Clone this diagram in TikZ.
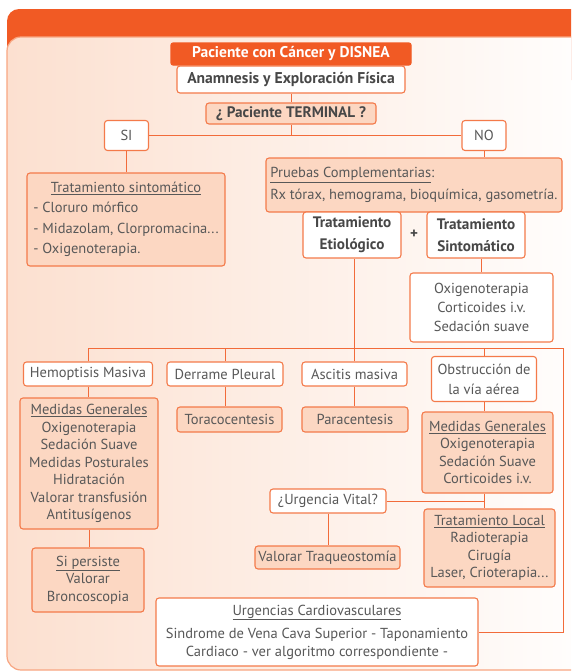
\documentclass[tikz,border=0pt]{standalone}
\usepackage{fontspec}
\setmainfont{PT Sans}
\usepackage{tikz}
\usetikzlibrary{calc}

\definecolor{naranja}{HTML}{F15A24}
\definecolor{borde}{HTML}{F47A4A}
\definecolor{linea}{HTML}{F26B3A}
\definecolor{salmon}{HTML}{FCD7C2}
\definecolor{fondo}{HTML}{FCE0D0}
\definecolor{marco}{HTML}{F8A682}
\definecolor{texto}{HTML}{585858}
\definecolor{textoosc}{HTML}{474747}

\tikzset{
    caja/.style={draw=borde, line width=1.1pt, rounded corners=3pt, fill=white,
                 text=texto, align=center, inner sep=0pt,
                 font=\fontsize{14.5}{17.5}\selectfont},
    cajasalmon/.style={caja, fill=salmon},
    cajanegrita/.style={caja, text=textoosc, font=\fontsize{15.2}{22}\selectfont\bfseries},
    conector/.style={draw=linea, line width=1pt},
}

\begin{document}
\begin{tikzpicture}[x=1pt,y=-1pt]
                    \useasboundingbox (0,0) rectangle (571,672);
                    \clip (0,0) rectangle (571,672);
                    \fill[white] (0,0) rectangle (571,672);
                    \fill[naranja, rounded corners=12pt] (7,9) rectangle (610,80);
                    \shade[left color=fondo, right color=white, rounded corners=14pt]
                        (7,37) rectangle (610,670);
                    \draw[marco, line width=1.2pt, rounded corners=14pt]
                        (7,37) rectangle (610,670);

                    \node[caja, fill=naranja, draw=naranja, rounded corners=2pt, text=white,
                          font=\fontsize{15.5}{17}\selectfont\bfseries,
                          minimum width=240pt, minimum height=22pt] (paciente) at (291,54)
                          {Paciente con Cáncer y DISNEA};
                    \node[cajanegrita, font=\fontsize{15.6}{22}\selectfont\bfseries,
                          minimum width=228pt, minimum height=27pt] (anamnesis) at (291,79.5)
                          {Anamnesis y Exploración Física};
                    \node[cajanegrita, fill=salmon, minimum width=170pt, minimum height=21pt] (terminal) at (291,113.5)
                          {¿ Paciente TERMINAL ?};
                    \node[caja, minimum width=44pt, minimum height=30pt] (si) at (126.5,135.5) {SI};
                    \node[caja, minimum width=44pt, minimum height=30pt] (no) at (484,135.5) {NO};

                    \node[cajasalmon, minimum width=198pt, minimum height=93pt] (sintomatico) at (126,219.5)
                          {\begin{tabular}{@{}l@{}}
                           \multicolumn{1}{@{}c@{}}{\underline{Tratamiento sintomático}}\\[3pt]
                           - Cloruro mórfico\\[3pt]
                           - Midazolam, Clorpromacina...\\[3pt]
                           - Oxigenoterapia.
                           \end{tabular}};
                    \node[cajasalmon, align=left, minimum width=296pt, minimum height=54pt,
                          font=\fontsize{14.5}{22}\selectfont] (pruebas) at (414,185)
                          {\underline{Pruebas Complementarias}:\\
                           Rx tórax, hemograma, bioquímica, gasometría.};

                    \node[cajanegrita, minimum width=98pt, minimum height=46pt] (etiologico) at (352,235)
                          {Tratamiento\\Etiológico};
                    \node[text=textoosc, font=\fontsize{15}{17}\selectfont\bfseries] (mas) at (414,234) {+};
                    \node[cajanegrita, minimum width=98pt, minimum height=46pt] (tratsint) at (476,235)
                          {Tratamiento\\Sintomático};
                    \node[caja, font=\fontsize{14.5}{19}\selectfont,
                          minimum width=143pt, minimum height=69pt] (oxigeno) at (481.5,307.5)
                          {Oxigenoterapia\\Corticoides i.v.\\Sedación suave};

                    \node[caja, minimum width=129pt, minimum height=24pt] (hemoptisis) at (88,374)
                          {Hemoptisis Masiva};
                    \node[caja, minimum width=116pt, minimum height=24pt] (derrame) at (225,374)
                          {Derrame Pleural};
                    \node[caja, minimum width=105pt, minimum height=24pt] (ascitis) at (354.5,374)
                          {Ascitis masiva};
                    \node[caja, font=\fontsize{14.5}{20}\selectfont,
                          minimum width=105pt, minimum height=45pt] (obstruccion) at (484,379)
                          {Obstrucción de\\la vía aérea};

                    \node[cajasalmon, minimum width=138pt, minimum height=131pt] (medidasA) at (89,463.5)
                          {\underline{Medidas Generales}\\Oxigenoterapia\\Sedación Suave\\Medidas Posturales\\
                           Hidratación\\Valorar transfusión\\Antitusígenos};
                    \node[cajasalmon, minimum width=105pt, minimum height=25pt] (toraco) at (229.5,419.5)
                          {Toracocentesis};
                    \node[cajasalmon, minimum width=106pt, minimum height=25pt] (para) at (355,419.5)
                          {Paracentesis};
                    \node[cajasalmon, minimum width=131pt, minimum height=81pt] (medidasB) at (487.5,452.5)
                          {\underline{Medidas Generales}\\Oxigenoterapia\\Sedación Suave\\Corticoides i.v.};

                    \node[caja, minimum width=116pt, minimum height=24pt] (urgencia) at (328,501)
                          {¿Urgencia Vital?};
                    \node[cajasalmon, minimum width=131pt, minimum height=78pt] (local) at (489.5,548)
                          {\underline{Tratamiento Local}\\Radioterapia\\Cirugía\\Laser, Crioterapia...};
                    \node[cajasalmon, minimum width=145pt, minimum height=23pt] (traqueo) at (327.5,557.5)
                          {Valorar Traqueostomía};
                    \node[cajasalmon, minimum width=112pt, minimum height=64pt] (persiste) at (88,580)
                          {\underline{Si persiste}\\Valorar\\Broncoscopia};
                    \node[caja, minimum width=322pt, minimum height=68pt] (cardio) at (317,632)
                          {\underline{Urgencias Cardiovasculares}\\[6pt]
                           Sindrome de Vena Cava Superior - Taponamiento\\
                           Cardiaco - ver algoritmo correspondiente -};

                    \coordinate (esquina) at (563,348);

                    \draw[conector] (anamnesis.south) -- (terminal.north);
                    \draw[conector] (terminal.south) -- (terminal.south |- si.east);
                    \draw[conector] (si.east) -- (no.west);
                    \draw[conector] (si.south) -- (si.south |- sintomatico.north);
                    \draw[conector] (no.south) -- (no.south |- pruebas.north);
                    \draw[conector] (oxigeno.north) -- (oxigeno.north |- tratsint.south);
                    \draw[conector] (ascitis.north) -- (ascitis.north |- etiologico.south);
                    \draw[conector] (hemoptisis.north) |- (esquina) |- (cardio.east);
                    \draw[conector] (derrame.north) -- (derrame.north |- esquina);
                    \draw[conector] (obstruccion.north) -- (obstruccion.north |- esquina);
                    \draw[conector] (hemoptisis.south) -- (hemoptisis.south |- medidasA.north);
                    \draw[conector] (derrame.south) -- (derrame.south |- toraco.north);
                    \draw[conector] (ascitis.south) -- (ascitis.south |- para.north);
                    \draw[conector] (obstruccion.south) -- (obstruccion.south |- medidasB.north);
                    \draw[conector] (obstruccion.south |- medidasB.south) -- (obstruccion.south |- local.north);
                    \draw[conector] (urgencia.east) -- (urgencia.east -| obstruccion.south);
                    \draw[conector] (urgencia.south) -- (urgencia.south |- traqueo.north);
                    \draw[conector] (medidasA.south) -- (medidasA.south |- persiste.north);
\end{tikzpicture}
\end{document}
